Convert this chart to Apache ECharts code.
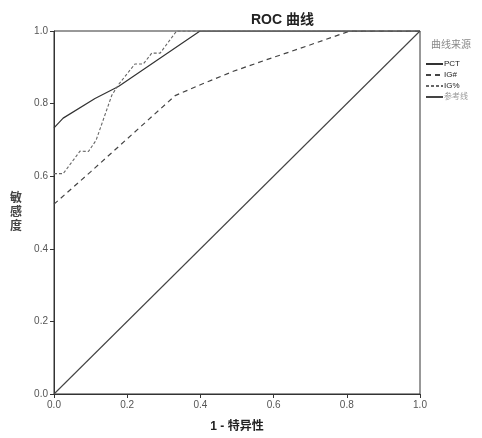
<!DOCTYPE html>
<html>
<head>
<meta charset="utf-8">
<script src="https://cdn.jsdelivr.net/npm/echarts@6/dist/echarts.min.js"></script>
<style>
  html, body { margin: 0; padding: 0; background: #fff; }
  #myChart { width: 482px; height: 438px; }
</style>
</head>
<body>
<div id="myChart"></div>
<script>
// 1 - 特异性 (x) / 敏感度 (y)
var pctX = [0, 0.025, 0.112, 0.176, 0.399, 1.0]
var pctY = [0.733, 0.760, 0.814, 0.847, 1.0, 1.0]

var igHashX = [0, 0.1, 0.2, 0.331, 0.4, 0.49, 0.581, 0.672, 0.809, 1.0]
var igHashY = [0.523, 0.612, 0.703, 0.822, 0.852, 0.889, 0.921, 0.952, 1.0, 1.0]

var igPctX = [0, 0.025, 0.071, 0.094, 0.115, 0.158, 0.176, 0.221, 0.244, 0.267, 0.29, 0.335, 1.0]
var igPctY = [0.607, 0.607, 0.669, 0.668, 0.699, 0.823, 0.852, 0.909, 0.909, 0.939, 0.939, 1.0, 1.0]

var refX = [0, 1]
var refY = [0, 1]

var legendNames = ['PCT', 'IG#', 'IG%', '参考线']

function pairs (xs, ys) {
  var out = []
  for (var i = 0; i < xs.length; i++) out.push([xs[i], ys[i]])
  return out
}

var font = '"Liberation Sans", "Noto Sans CJK SC", sans-serif'

var option = {
  animation: false,
  backgroundColor: '#fff',
  title: [
    {
      text: 'ROC 曲线',
      left: 246,
      top: 8,
      textStyle: { fontFamily: font, fontSize: 14, fontWeight: 'bold', color: '#222' }
    },
    {
      text: '曲线来源',
      left: 426,
      top: 35,
      textStyle: { fontFamily: font, fontSize: 10, fontWeight: 'normal', color: '#888' }
    }
  ],
  legend: {
    orient: 'vertical',
    left: 420,
    top: 55,
    itemWidth: 17,
    itemHeight: 8,
    itemGap: 3,
    data: [
      { name: legendNames[0], textStyle: { color: '#222' } },
      { name: legendNames[1], textStyle: { color: '#222' } },
      { name: legendNames[2], textStyle: { color: '#222' } },
      { name: legendNames[3], textStyle: { color: '#999' } }
    ],
    itemStyle: { opacity: 0 },
    textStyle: { fontFamily: font, fontSize: 8, padding: [0, 0, 0, -4] }
  },
  grid: {
    left: 54,
    right: 62,
    top: 31,
    bottom: 42,
    show: true,
    borderColor: '#333',
    borderWidth: 1
  },
  xAxis: {
    type: 'value',
    min: 0,
    max: 1,
    interval: 0.2,
    name: '1 - 特异性',
    nameLocation: 'middle',
    nameGap: 27,
    nameTextStyle: { fontFamily: font, fontSize: 12, fontWeight: 'bold', color: '#222' },
    axisLine: { show: true, lineStyle: { color: '#333' } },
    axisTick: { show: true, length: 4, lineStyle: { color: '#333' } },
    axisLabel: { fontFamily: font, fontSize: 10, color: '#555', margin: 6, formatter: function (v) { return v.toFixed(1) } },
    splitLine: { show: false }
  },
  yAxis: {
    type: 'value',
    min: 0,
    max: 1,
    interval: 0.2,
    name: '敏\n感\n度',
    nameLocation: 'middle',
    nameGap: 32,
    nameRotate: 0,
    nameTextStyle: { fontFamily: font, fontSize: 12, fontWeight: 'bold', color: '#444', lineHeight: 14 },
    axisLine: { show: true, lineStyle: { color: '#333' } },
    axisTick: { show: true, length: 4, lineStyle: { color: '#333' } },
    axisLabel: { fontFamily: font, fontSize: 10, color: '#555', margin: 6, formatter: function (v) { return v.toFixed(1) } },
    splitLine: { show: false }
  },
  series: [
    {
      name: legendNames[0],
      type: 'line',
      data: pairs(pctX, pctY),
      symbol: 'none',
      lineStyle: { color: '#333', width: 1.2, type: 'solid' },
      itemStyle: { color: '#333' }
    },
    {
      name: legendNames[1],
      type: 'line',
      data: pairs(igHashX, igHashY),
      symbol: 'none',
      lineStyle: { color: '#444', width: 1.2, type: [5, 4] },
      itemStyle: { color: '#444' }
    },
    {
      name: legendNames[2],
      type: 'line',
      data: pairs(igPctX, igPctY),
      symbol: 'none',
      lineStyle: { color: '#666', width: 1.1, type: [3, 2] },
      itemStyle: { color: '#666' }
    },
    {
      name: legendNames[3],
      type: 'line',
      data: pairs(refX, refY),
      symbol: 'none',
      lineStyle: { color: '#444', width: 1.1, type: 'solid' },
      itemStyle: { color: '#444' }
    }
  ]
}

var myChart = echarts.init(document.getElementById('myChart'))
myChart.setOption(option)
</script>
</body>
</html>
